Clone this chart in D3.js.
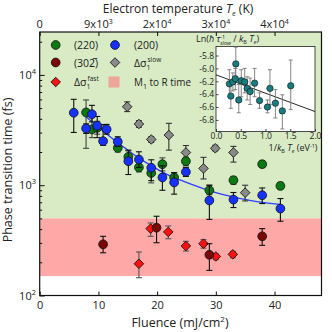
<!DOCTYPE html>
<html><head><meta charset="utf-8">
<script src="https://cdn.jsdelivr.net/npm/d3@7"></script>
<style>
body{margin:0;background:#fff}
svg{display:block}
text{font-family:"Open Sans","Noto Sans",sans-serif;fill:#222}
</style>
</head><body>
<svg id="c" width="332" height="332"></svg>
<script>
// ---------- axis data ----------
const fluenceTicks = [0, 10, 20, 30, 40];
const tempMant = ["0", "9x10", "2x10", "3x10", "4x10"];
const tempExp  = ["", "3", "4", "4", "4"];
const timeMajor = [100, 1000, 10000];
const timeExp   = ["2", "3", "4"];
const timeMinor = [200,300,400,500,600,700,800,900,2000,3000,4000,5000,6000,7000,8000,9000,20000];
const bandRtoM = [150, 500];     // M1 to R time band (fs)
const bandTop = 24500;

// ---------- series: (200) blue ----------
const blueF  = [5.8, 7.9, 8.9, 9.8, 10.8, 11.4, 13.3, 15.1, 16.9, 19.0, 20.9, 22.9, 24.9, 28.9, 33.0, 37.9, 41.0];
const blueT  = [4540, 3270, 4400, 3460, 2510, 3210, 2480, 1650, 1710, 1440, 1175, 1060, 1320, 727, 741, 811, 614];
const blueLo = [3010, 2950, 3750, 2700, 2300, 2900, 2250, 1250, 1450, 1100, 900, 830, 1200, 490, 627, 682, 471];
const blueHi = [6010, 3600, 5300, 4200, 3550, 3560, 2750, 2080, 2010, 1700, 1500, 1300, 1450, 1000, 859, 944, 757];
// ---------- (220) green ----------
const greenF  = [7.9, 8.9, 9.8, 13.3, 15.1, 16.9, 19.0, 20.9, 22.9, 24.9, 28.9, 33.0, 37.9, 41.0];
const greenT  = [4570, 3210, 3310, 2180, 1810, 1450, 1290, 1550, 1175, 1650, 900, 1110, 1550, 985];
const greenLo = [2160, 2700, 2900, 2000, 1600, 1320, 1050, 1350, 1050, 1500, 820, 1020, 1450, 920];
const greenHi = [5930, 4200, 3800, 2400, 2050, 1600, 1500, 1770, 1300, 1800, 1000, 1200, 1650, 1060];
// ---------- Δσ slow grey ----------
const greyF  = [14.9, 16.9, 19.0, 22.0, 24.9, 27.9, 29.9, 33.0, 35.0];
const greyT  = [5150, 3590, 2600, 2850, 1980, 1420, 2160, 1980, 855];
const greyLo = [4650, 3350, 2450, 2080, 1700, 1140, 2050, 1620, 720];
const greyHi = [5700, 3850, 2750, 3640, 2290, 1790, 2300, 2250, 1000];
// ---------- (30-2) dark red ----------
const dredF  = [10.8, 19.9, 28.9, 37.9];
const dredT  = [291, 412, 234, 344];
const dredLo = [244, 301, 169, 285];
const dredHi = [344, 523, 295, 404];
// ---------- Δσ fast red ----------
const redF  = [16.9, 18.9, 21.9, 24.9, 27.9, 30.0, 32.9];
const redT  = [194, 404, 377, 281, 295, 226, 236];
const redLo = [145, 344, 327, 253, 269, 211, 220];
const redHi = [248, 455, 427, 310, 321, 239, 251];
// ---------- blue fit curve ----------
const fitF = [7.9, 10, 12, 14, 16, 18, 20, 22, 24, 26, 28, 30, 32, 34, 36, 38, 41];
const fitT = [4170, 3350, 2750, 2280, 1900, 1620, 1400, 1230, 1110, 1010, 926, 857, 803, 760, 726, 699, 669];

// ---------- inset ----------
const inX  = [0.27, 0.30, 0.34, 0.39, 0.40, 0.46, 0.51, 0.58, 0.63, 0.69, 0.78, 0.88, 1.04, 1.09, 1.20, 1.34, 1.51];
const inY  = [-6.24, -6.43, -6.21, -6.16, -5.93, -6.49, -6.19, -6.21, -6.31, -6.36, -6.23, -6.50, -6.60, -6.31, -6.54, -6.66, -6.27];
const inLo = [-6.44, -6.62, -6.35, -6.33, -6.18, -6.69, -6.44, -6.38, -6.49, -6.56, -6.44, -6.62, -6.69, -6.56, -6.77, -6.94, -6.64];
const inHi = [-6.02, -6.25, -6.07, -6.00, -5.67, -6.25, -6.02, -6.00, -6.13, -6.15, -6.00, -6.38, -6.49, -6.02, -6.33, -6.41, -5.87];
const inFitX = [0, 2];
const inFitY = [-6.10, -6.67];
const inXTicks = [0, 0.5, 1.0, 1.5, 2.0];
const inYTicks = [-5.8, -6.0, -6.2, -6.4, -6.6, -6.8];

// ---------- drawing ----------
const svg = d3.select("#c");
const L = 39.7, R = 321.5, T = 32, B = 295.5;
const x = d3.scaleLinear().domain([0, 48]).range([L, R]);
const y = d3.scaleLog().domain([100, bandTop]).range([B, T]);

// background bands
svg.append("rect").attr("x", L).attr("width", R - L)
  .attr("y", y(bandTop)).attr("height", y(bandRtoM[1]) - y(bandTop)).attr("fill", "#d9ebc5");
svg.append("rect").attr("x", L).attr("width", R - L)
  .attr("y", y(bandRtoM[1])).attr("height", y(bandRtoM[0]) - y(bandRtoM[1])).attr("fill", "#ffa8a8");

// axes
const gL = svg.append("g").attr("transform", `translate(${L},0)`);
gL.call(d3.axisLeft(y).tickValues(timeMajor).tickSize(-5).tickFormat(""));
const gLm = svg.append("g").attr("transform", `translate(${L},0)`);
gLm.call(d3.axisLeft(y).tickValues(timeMinor).tickSize(-2.5).tickFormat(""));
const gB = svg.append("g").attr("transform", `translate(0,${B})`);
gB.call(d3.axisBottom(x).tickValues(fluenceTicks).tickSize(-4).tickPadding(6));
const gT = svg.append("g").attr("transform", `translate(0,${T})`);
gT.call(d3.axisTop(x).tickValues(fluenceTicks).tickSize(-4).tickFormat(""));
svg.selectAll(".domain").remove();
svg.selectAll(".tick line").attr("stroke", "#111").attr("stroke-width", 1);
gB.selectAll(".tick text").attr("font-size", 11).attr("fill", "#222")
  .attr("font-family", '"Open Sans","Noto Sans",sans-serif');

// left labels 10^n
timeMajor.forEach((v, i) => {
  const t = svg.append("text").attr("x", 36).attr("y", y(v) + 4)
    .attr("text-anchor", "end").attr("font-size", 11);
  t.append("tspan").text("10");
  t.append("tspan").attr("font-size", 7.5).attr("dy", -5).text(timeExp[i]);
});
// top labels
fluenceTicks.forEach((v, i) => {
  const t = svg.append("text").attr("x", x(v)).attr("y", 28)
    .attr("text-anchor", "middle").attr("font-size", 11);
  t.append("tspan").text(tempMant[i]);
  if (tempExp[i]) t.append("tspan").attr("font-size", 7).attr("dy", -4.5).text(tempExp[i]);
});

// titles
{
  const t = svg.append("text").attr("x", 178).attr("y", 12.5).attr("text-anchor", "middle").attr("font-size", 12);
  t.append("tspan").text("Electron temperature ");
  t.append("tspan").attr("font-style", "italic").text("T");
  t.append("tspan").attr("font-size", 7.5).attr("dy", 3).attr("font-style", "italic").text("e");
  t.append("tspan").attr("dy", -3).text(" (K)");
}
{
  const t = svg.append("text").attr("x", 180).attr("y", 327).attr("text-anchor", "middle").attr("font-size", 12.5);
  t.append("tspan").text("Fluence (mJ/cm");
  t.append("tspan").attr("font-size", 8).attr("dy", -5).text("2");
  t.append("tspan").attr("dy", 5).text(")");
}
svg.append("text").attr("transform", "translate(12,170) rotate(-90)")
  .attr("text-anchor", "middle").attr("font-size", 12.5).text("Phase transition time (fs)");

// fit line
svg.append("path")
  .datum(fitF.map((f, i) => [f, fitT[i]]))
  .attr("fill", "none").attr("stroke", "#2f3cff").attr("stroke-width", 1.3)
  .attr("d", d3.line().x(d => x(d[0])).y(d => y(d[1])).curve(d3.curveMonotoneX));

const diamond = d3.symbol().type(d3.symbolSquare).size(46);

function series(F, V, Lo, Hi, fill, shape, ecol) {
  const g = svg.append("g");
  const idx = d3.range(F.length);
  g.selectAll("line.v").data(idx).join("line")
    .attr("x1", i => x(F[i])).attr("x2", i => x(F[i]))
    .attr("y1", i => y(Lo[i])).attr("y2", i => y(Hi[i]))
    .attr("stroke", ecol).attr("stroke-width", 1.1);
  [Lo, Hi].forEach(arr => {
    g.selectAll(null).data(idx).join("line")
      .attr("x1", i => x(F[i]) - 3).attr("x2", i => x(F[i]) + 3)
      .attr("y1", i => y(arr[i])).attr("y2", i => y(arr[i]))
      .attr("stroke", ecol).attr("stroke-width", 1.1);
  });
  if (shape === "c") {
    g.selectAll("circle").data(idx).join("circle")
      .attr("cx", i => x(F[i])).attr("cy", i => y(V[i])).attr("r", 4.4)
      .attr("fill", fill).attr("stroke", "#111").attr("stroke-width", 0.8);
  } else {
    g.selectAll("path").data(idx).join("path")
      .attr("d", diamond)
      .attr("transform", i => `translate(${x(F[i])},${y(V[i])}) rotate(45)`)
      .attr("fill", fill).attr("stroke", "#111").attr("stroke-width", 0.8);
  }
}
series(greyF, greyT, greyLo, greyHi, "#8a8a8a", "d", "#333");
series(greenF, greenT, greenLo, greenHi, "#0b7a12", "c", "#444");
series(blueF, blueT, blueLo, blueHi, "#1530ff", "c", "#111");
series(redF, redT, redLo, redHi, "#ff1010", "d", "#555");
series(dredF, dredT, dredLo, dredHi, "#7a0606", "c", "#111");

// frame
svg.append("rect").attr("x", L).attr("y", T).attr("width", R - L).attr("height", B - T)
  .attr("fill", "none").attr("stroke", "#111").attr("stroke-width", 1.2);

// legend
function legendSym(cx, cy, fill, shape) {
  if (shape === "c") svg.append("circle").attr("cx", cx).attr("cy", cy).attr("r", 4.4)
    .attr("fill", fill).attr("stroke", "#111").attr("stroke-width", 0.8);
  else if (shape === "d") svg.append("path").attr("d", diamond)
    .attr("transform", `translate(${cx},${cy}) rotate(45)`)
    .attr("fill", fill).attr("stroke", "#111").attr("stroke-width", 0.8);
  else svg.append("rect").attr("x", cx - 5.5).attr("y", cy - 5.5).attr("width", 11).attr("height", 11)
    .attr("fill", fill);
}
legendSym(55.7, 45, "#0b7a12", "c");
legendSym(115, 45, "#1530ff", "c");
legendSym(55.7, 62.5, "#7a0606", "c");
legendSym(115, 62.5, "#8a8a8a", "d");
legendSym(55.7, 82, "#ff1010", "d");
legendSym(114, 82, "#eca596", "s");
const LF = 10.5;
svg.append("text").attr("x", 74).attr("y", 49).attr("font-size", LF).text("(220)");
svg.append("text").attr("x", 134).attr("y", 49).attr("font-size", LF).text("(200)");
svg.append("text").attr("x", 74).attr("y", 66.5).attr("font-size", LF).text("(302\u0305)");
{
  const t = svg.append("text").attr("x", 134).attr("y", 86).attr("font-size", LF)
    .attr("textLength", 57).attr("lengthAdjust", "spacingAndGlyphs");
  t.append("tspan").text("M");
  t.append("tspan").attr("font-size", 7.5).attr("dy", 3).text("1");
  t.append("tspan").attr("dy", -3).text(" to R time");
}
function dsig(x0, y0, sup) {
  const t = svg.append("text").attr("x", x0).attr("y", y0).attr("font-size", LF).text("\u0394\u03c3");
  const w = t.node().getComputedTextLength();
  svg.append("text").attr("x", x0 + w).attr("y", y0 + 3).attr("font-size", 7).text("1");
  svg.append("text").attr("x", x0 + w + 1).attr("y", y0 - 5).attr("font-size", 6.5).text(sup);
}
dsig(134, 66.5, "slow");
dsig(74, 86, "fast");

// ---------- inset ----------
const ix = d3.scaleLinear().domain([0, 2]).range([216, 315]);
const iy = d3.scaleLinear().domain([-6.98, -5.66]).range([131.5, 46.5]);
svg.append("rect").attr("x", 216).attr("y", 46.5).attr("width", 99).attr("height", 85)
  .attr("fill", "#fff").attr("stroke", "#222").attr("stroke-width", 0.8);
const giB = svg.append("g").attr("transform", "translate(0,131.5)")
  .call(d3.axisBottom(ix).tickValues(inXTicks).tickSize(-2.5).tickPadding(1.5).tickFormat(d3.format(".1f")));
const giL = svg.append("g").attr("transform", "translate(216,0)")
  .call(d3.axisLeft(iy).tickValues(inYTicks).tickSize(-2.5).tickPadding(2).tickFormat(d => d.toFixed(1)));
[giB, giL].forEach(g => {
  g.select(".domain").remove();
  g.selectAll(".tick line").attr("stroke", "#222").attr("stroke-width", 0.8);
  g.selectAll(".tick text").attr("font-size", 8.5).attr("fill", "#333")
    .attr("font-family", '"Open Sans","Noto Sans",sans-serif');
});
giL.selectAll(".tick text").text(d => "-" + Math.abs(d).toFixed(1));

svg.append("path").datum(inFitX.map((v, i) => [v, inFitY[i]]))
  .attr("fill", "none").attr("stroke", "#111").attr("stroke-width", 0.9)
  .attr("d", d3.line().x(d => ix(d[0])).y(d => iy(d[1])));
{
  const idx = d3.range(inX.length);
  const g = svg.append("g");
  g.selectAll("line.v").data(idx).join("line")
    .attr("x1", i => ix(inX[i])).attr("x2", i => ix(inX[i]))
    .attr("y1", i => iy(inLo[i])).attr("y2", i => iy(inHi[i]))
    .attr("stroke", "#777").attr("stroke-width", 0.9);
  [inLo, inHi].forEach(arr => {
    g.selectAll(null).data(idx).join("line")
      .attr("x1", i => ix(inX[i]) - 2).attr("x2", i => ix(inX[i]) + 2)
      .attr("y1", i => iy(arr[i])).attr("y2", i => iy(arr[i]))
      .attr("stroke", "#777").attr("stroke-width", 0.9);
  });
  g.selectAll("circle").data(idx).join("circle")
    .attr("cx", i => ix(inX[i])).attr("cy", i => iy(inY[i])).attr("r", 3.2)
    .attr("fill", "#177d80").attr("stroke", "#111").attr("stroke-width", 0.6);
}
{
  const t = svg.append("text").attr("x", 196).attr("y", 42).attr("font-size", 9).attr("fill", "#333");
  t.append("tspan").text("Ln(");
  t.append("tspan").attr("font-style", "italic").text("\u0127 \u03c4");
  t.append("tspan").attr("font-size", 5.5).attr("dy", -3.5).text("-1");
  t.append("tspan").attr("font-size", 5.5).attr("dx", -5).attr("dy", 6.5).attr("font-style", "italic").text("slow");
  t.append("tspan").attr("dy", -3).text(" / ");
  t.append("tspan").attr("font-style", "italic").text("k");
  t.append("tspan").attr("font-size", 5.5).attr("dy", 2).text("B");
  t.append("tspan").attr("dy", -2).attr("font-style", "italic").text(" T");
  t.append("tspan").attr("font-size", 5.5).attr("dy", 2).attr("font-style", "italic").text("e");
  t.append("tspan").attr("dy", -2).text(")");
}
{
  const t = svg.append("text").attr("x", 293).attr("y", 151).attr("text-anchor", "middle").attr("font-size", 9).attr("fill", "#333");
  t.append("tspan").text("1/");
  t.append("tspan").attr("font-style", "italic").text("k");
  t.append("tspan").attr("font-size", 5.5).attr("dy", 2).text("B");
  t.append("tspan").attr("dy", -2).attr("font-style", "italic").text(" T");
  t.append("tspan").attr("font-size", 5.5).attr("dy", 2).attr("font-style", "italic").text("e");
  t.append("tspan").attr("dy", -2).text(" (eV");
  t.append("tspan").attr("font-size", 5.5).attr("dy", -3.5).text("-1");
  t.append("tspan").attr("dy", 3.5).text(")");
}
</script>
</body></html>
